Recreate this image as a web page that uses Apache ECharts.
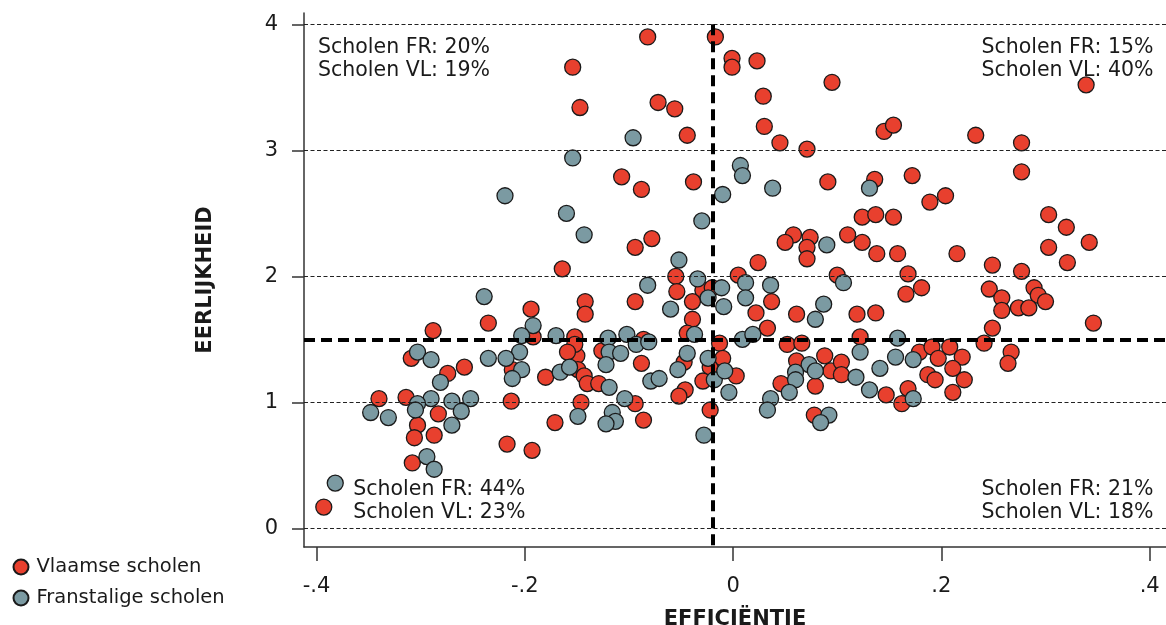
<!DOCTYPE html>
<html>
<head>
<meta charset="utf-8">
<script src="https://cdn.jsdelivr.net/npm/echarts@6/dist/echarts.min.js"></script>
<style>html,body{margin:0;padding:0;background:#fff}#c{width:1166px;height:625px}</style>
</head>
<body>
<div id="c"></div>
<script>
// ---- data ----
const seriesNames = ['Vlaamse scholen', 'Franstalige scholen'];
const vlaamse = [
[-0.154,3.66],[-0.147,3.34],[-0.164,2.06],[-0.142,1.80],[-0.082,3.90],[-0.017,3.90],[-0.001,3.73],[-0.001,3.66],
[0.023,3.71],[0.095,3.54],[-0.072,3.38],[-0.056,3.33],[0.029,3.43],[-0.044,3.12],[0.030,3.19],[0.045,3.06],
[0.071,3.01],[0.145,3.15],[0.154,3.20],[0.233,3.12],[0.277,3.06],[0.339,3.52],[0.277,2.83],[-0.107,2.79],
[-0.088,2.69],[-0.038,2.75],[0.091,2.75],[0.136,2.77],[0.172,2.80],[0.189,2.59],[0.204,2.64],[-0.078,2.30],
[-0.094,2.23],[0.058,2.33],[0.050,2.27],[0.074,2.31],[0.071,2.23],[0.071,2.14],[0.110,2.33],[0.124,2.27],
[0.124,2.47],[0.137,2.49],[0.138,2.18],[0.154,2.47],[0.158,2.18],[0.215,2.18],[0.024,2.11],[-0.055,2.00],
[0.005,2.01],[0.100,2.01],[-0.054,1.88],[-0.029,1.89],[-0.020,1.91],[-0.094,1.80],[-0.039,1.80],[0.037,1.80],
[0.168,2.02],[0.166,1.86],[0.181,1.91],[0.249,2.09],[0.277,2.04],[0.303,2.49],[0.320,2.39],[0.342,2.27],
[0.303,2.23],[0.321,2.11],[0.246,1.90],[0.258,1.83],[0.289,1.91],[0.293,1.85],[0.300,1.80],[0.137,1.71],
[0.258,1.73],[0.274,1.75],[0.284,1.75],[0.346,1.63],[0.249,1.59],[0.241,1.47],[0.267,1.40],[0.264,1.31],
[0.179,1.40],[0.191,1.44],[0.197,1.35],[0.208,1.44],[0.220,1.36],[0.211,1.27],[0.187,1.22],[0.194,1.18],
[0.222,1.18],[0.211,1.08],[0.168,1.11],[0.147,1.06],[0.162,0.99],[0.022,1.71],[0.061,1.70],[0.119,1.70],
[-0.142,1.70],[-0.039,1.66],[0.033,1.59],[0.122,1.52],[-0.150,1.37],[-0.086,1.50],[-0.126,1.41],[-0.088,1.31],
[-0.149,1.26],[-0.143,1.21],[-0.140,1.15],[-0.129,1.15],[-0.146,1.00],[-0.094,0.99],[-0.086,0.86],[-0.044,1.55],
[-0.047,1.32],[-0.046,1.10],[-0.052,1.05],[-0.022,1.28],[-0.029,1.17],[-0.013,1.47],[-0.010,1.35],[0.003,1.21],
[-0.022,0.94],[0.052,1.46],[0.066,1.47],[0.061,1.33],[0.046,1.15],[0.079,1.13],[0.088,1.37],[0.094,1.25],
[0.104,1.32],[0.104,1.22],[0.078,0.90],[-0.194,1.74],[-0.235,1.63],[-0.288,1.57],[-0.192,1.52],[-0.152,1.52],
[-0.152,1.46],[-0.159,1.40],[-0.212,1.26],[-0.180,1.20],[-0.258,1.28],[-0.274,1.23],[-0.309,1.35],[-0.340,1.03],
[-0.314,1.04],[-0.283,0.91],[-0.303,0.82],[-0.306,0.72],[-0.287,0.74],[-0.213,1.01],[-0.171,0.84],[-0.217,0.67],
[-0.193,0.62],[-0.308,0.52]
];
const franstalige = [
[-0.154,2.94],[-0.219,2.64],[-0.160,2.50],[-0.143,2.33],[-0.239,1.84],[-0.096,3.10],[0.007,2.88],[0.009,2.80],
[0.038,2.70],[-0.010,2.65],[0.131,2.70],[-0.030,2.44],[0.090,2.25],[-0.052,2.13],[-0.034,1.98],[0.012,1.95],
[0.106,1.95],[-0.082,1.93],[-0.011,1.91],[0.036,1.93],[-0.024,1.83],[0.012,1.83],[0.087,1.78],[-0.060,1.74],
[-0.009,1.76],[0.079,1.66],[0.122,1.40],[-0.120,1.51],[-0.102,1.54],[-0.093,1.46],[-0.081,1.48],[-0.119,1.40],
[-0.108,1.39],[-0.122,1.30],[-0.079,1.17],[-0.071,1.19],[-0.119,1.12],[-0.104,1.03],[-0.116,0.92],[-0.113,0.85],
[-0.122,0.83],[-0.149,0.89],[-0.037,1.54],[-0.044,1.39],[-0.053,1.26],[-0.024,1.35],[-0.018,1.18],[-0.008,1.25],
[-0.004,1.08],[-0.028,0.74],[0.009,1.50],[0.019,1.54],[0.073,1.30],[0.079,1.25],[0.060,1.24],[0.060,1.18],
[0.054,1.08],[0.118,1.20],[0.131,1.10],[0.036,1.03],[0.033,0.94],[0.092,0.90],[0.084,0.84],[0.158,1.51],
[0.156,1.36],[0.141,1.27],[0.173,1.34],[0.173,1.03],[-0.192,1.61],[-0.203,1.53],[-0.170,1.53],[-0.205,1.40],
[-0.235,1.35],[-0.218,1.35],[-0.203,1.26],[-0.212,1.19],[-0.166,1.24],[-0.157,1.28],[-0.281,1.16],[-0.303,1.40],
[-0.290,1.34],[-0.290,1.03],[-0.270,1.01],[-0.252,1.03],[-0.303,0.99],[-0.305,0.94],[-0.261,0.93],[-0.348,0.92],
[-0.331,0.88],[-0.270,0.82],[-0.294,0.57],[-0.287,0.47]
];
// markers shown next to the bottom-left annotation (FR = teal, VL = red)
const annotationMarkerFR = [[-0.382, 0.36]];
const annotationMarkerVL = [[-0.393, 0.17]];
const xTicks = [-0.4, -0.2, 0, 0.2, 0.4];
const xTickLabels = ['-.4', '-.2', '0', '.2', '.4'];
const yTicks = [0, 1, 2, 3, 4];
const yTickLabels = ['0', '1', '2', '3', '4'];
const thresholdX = -0.0195;   // vertical heavy dashed line (efficiency)
const thresholdY = 1.497;     // horizontal heavy dashed line (honesty)
const textTopLeft = ['Scholen FR: 20%', 'Scholen VL: 19%'];
const textTopRight = ['Scholen FR: 15%', 'Scholen VL: 40%'];
const textBottomLeft = ['Scholen FR: 44%', 'Scholen VL: 23%'];
const textBottomRight = ['Scholen FR: 21%', 'Scholen VL: 18%'];
const xTitle = 'EFFICIËNTIE';
const yTitle = 'EERLIJKHEID';

// ---- chart ----
const RED = '#e8402e', TEAL = '#7b9aa2', INK = '#1a1a1a';
const FONT = 'DejaVu Sans';
const X_MIN = -0.412, X_MAX = 0.4157, Y_MIN = -0.147, Y_MAX = 4.09;

function labelFor(v, ticks, labels) {
  for (let i = 0; i < ticks.length; i++) if (Math.abs(v - ticks[i]) < 1e-6) return labels[i];
  return '';
}

const chart = echarts.init(document.getElementById('c'), null, {renderer: 'canvas'});
const markerStyle = (c) => ({color: c, borderColor: INK, borderWidth: 1.3, opacity: 1});

const thinLines = yTicks.map(v => ({yAxis: v}));
const option = {
  animation: false,
  backgroundColor: '#fff',
  textStyle: {fontFamily: FONT, color: INK},
  grid: {left: 304, right: 0, top: 13, bottom: 78, containLabel: false, outerBoundsMode: 'none'},
  legend: {
    data: seriesNames,
    orient: 'vertical', left: 12.5, top: 557, padding: 0,
    itemWidth: 21, itemHeight: 15, itemGap: 11, icon: 'circle',
    textStyle: {fontFamily: FONT, fontSize: 19.5, color: INK}
  },
  xAxis: {
    type: 'value', min: X_MIN, max: X_MAX,
    name: xTitle, nameLocation: 'middle', nameGap: 62,
    nameTextStyle: {fontFamily: FONT, fontSize: 21, fontWeight: 'bold', color: INK},
    axisLine: {show: true, onZero: false, lineStyle: {color: '#333', width: 1.5}},
    axisTick: {show: true, length: 14, customValues: xTicks, lineStyle: {color: '#333', width: 1.5}},
    axisLabel: {customValues: xTicks, margin: 29, fontSize: 21, fontFamily: FONT, color: INK,
      formatter: v => labelFor(v, xTicks, xTickLabels)},
    splitLine: {show: false}
  },
  yAxis: {
    type: 'value', min: Y_MIN, max: Y_MAX,
    name: yTitle, nameLocation: 'middle', nameGap: 88, nameRotate: 90,
    nameTextStyle: {fontFamily: FONT, fontSize: 21, fontWeight: 'bold', color: INK},
    axisLine: {show: true, onZero: false, lineStyle: {color: '#333', width: 1.5}},
    axisTick: {show: true, length: 12, customValues: yTicks, lineStyle: {color: '#333', width: 1.5}},
    axisLabel: {customValues: yTicks, margin: 26, fontSize: 21, fontFamily: FONT, color: INK,
      formatter: v => labelFor(v, yTicks, yTickLabels)},
    splitLine: {show: false}
  },
  series: [
    {
      name: 'refs', type: 'scatter', data: [], z: 1, silent: true,
      markLine: {
        silent: true, symbol: 'none', animation: false,
        label: {show: false},
        data: [
          ...thinLines.map(d => ({...d, lineStyle: {type: [4, 2.5], color: '#222', width: 1}})),
          {yAxis: thresholdY, lineStyle: {type: [11, 6], color: '#000', width: 4}},
          [{coord: [thresholdX, 4]}, {coord: [thresholdX, Y_MIN], lineStyle: {type: [11, 6], color: '#000', width: 4}}]
        ]
      }
    },
    {
      name: seriesNames[0], type: 'scatter', z: 3, data: vlaamse,
      symbol: 'circle', symbolSize: 16, itemStyle: markerStyle(RED)
    },
    {
      name: seriesNames[1], type: 'scatter', z: 3, data: franstalige,
      symbol: 'circle', symbolSize: 16, itemStyle: markerStyle(TEAL)
    },
    {
      name: 'annotFR', type: 'scatter', z: 3, data: annotationMarkerFR, silent: true,
      symbol: 'circle', symbolSize: 16, itemStyle: markerStyle(TEAL)
    },
    {
      name: 'annotVL', type: 'scatter', z: 3, data: annotationMarkerVL, silent: true,
      symbol: 'circle', symbolSize: 16, itemStyle: markerStyle(RED)
    }
  ],
  graphic: [
    {type: 'text', left: 318, top: 36.2, z: 10, style: {text: textTopLeft.join('\n'), font: '20.5px "DejaVu Sans"', lineHeight: 23, fill: INK}},
    {type: 'text', right: 12.5, top: 36.2, z: 10, style: {text: textTopRight.join('\n'), font: '20.5px "DejaVu Sans"', lineHeight: 23, fill: INK, align: 'right'}},
    {type: 'text', left: 353.3, top: 478, z: 10, style: {text: textBottomLeft.join('\n'), font: '20.5px "DejaVu Sans"', lineHeight: 23, fill: INK}},
    {type: 'text', right: 12.5, top: 478, z: 10, style: {text: textBottomRight.join('\n'), font: '20.5px "DejaVu Sans"', lineHeight: 23, fill: INK, align: 'right'}}
  ]
};
chart.setOption(option);
</script>
</body>
</html>
